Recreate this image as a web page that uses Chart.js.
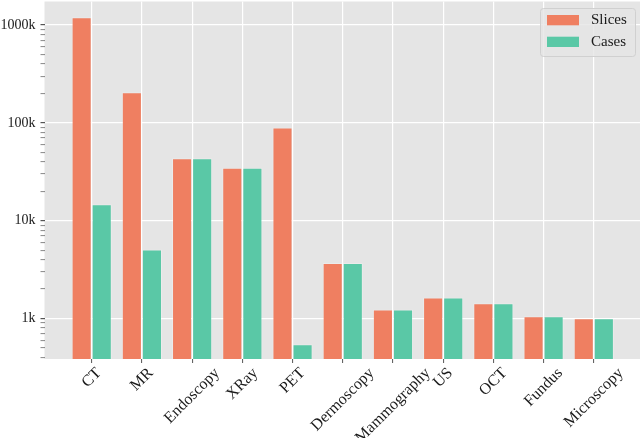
<!DOCTYPE html>
<html>
<head>
<meta charset="utf-8">
<script src="https://cdn.jsdelivr.net/npm/chart.js@4.4.0/dist/chart.umd.min.js"></script>
<style>
  html, body { margin: 0; padding: 0; background: #fff; }
  canvas { display: block; }
</style>
</head>
<body>
<canvas id="chart" width="640" height="438"></canvas>
<script>
// Datos (escala logarítmica)
const CATEGORIES = ["CT", "MR", "Endoscopy", "XRay", "PET", "Dermoscopy", "Mammography", "US", "OCT", "Fundus", "Microscopy"];
const SLICES = [1200000, 206000, 43500, 34700, 89800, 3690, 1240, 1640, 1430, 1055, 1005];
const CASES = [14700, 5090, 43500, 34700, 546, 3690, 1240, 1640, 1430, 1055, 1005];
const SERIES_LABELS = ["Slices", "Cases"];
const Y_MAJOR = [1e3, 1e4, 1e5, 1e6];
const Y_TICK_LABELS = ["1k", "10k", "100k", "1000k"];

const COLOR_SLICES = "#EF7F61";
const COLOR_CASES = "#5AC8A6";
const FONT = '"Liberation Serif", "Times New Roman", serif';
const TEXT = "#1a1a1a";

const Y_MIN = 386;
const Y_MAX = 1.74e6;

// ticks menores 2..9 de cada década
function yTicks() {
  const out = [];
  [100, 1e3, 1e4, 1e5, 1e6].forEach(d => {
    for (let k = 1; k <= 9; k++) {
      const v = d * k;
      if (v >= Y_MIN && v <= Y_MAX) out.push({ value: v });
    }
  });
  return out;
}

// Fondo gris estilo ggplot
const bgPlugin = {
  id: "bg",
  beforeDraw(chart) {
    const { ctx, chartArea: a } = chart;
    ctx.save();
    ctx.fillStyle = "#E5E5E5";
    ctx.fillRect(a.left, a.top, a.right - a.left, a.bottom - a.top);
    ctx.restore();
  }
};

// Etiquetas del eje X rotadas 45° y centradas en el tick
const xLabelPlugin = {
  id: "xlabels",
  afterDraw(chart) {
    const { ctx } = chart;
    const xs = chart.scales.x;
    const size = 16;
    ctx.save();
    ctx.font = size + "px " + FONT;
    ctx.fillStyle = TEXT;
    ctx.textAlign = "center";
    ctx.textBaseline = "middle";
    CATEGORIES.forEach((lab, i) => {
      const x = xs.getPixelForValue(i);
      const w = ctx.measureText(lab).width;
      const bh = (w + size) * Math.SQRT1_2;
      const cy = xs.top + 6 + bh / 2;
      ctx.save();
      ctx.translate(x, cy);
      ctx.rotate(-Math.PI / 4);
      ctx.fillText(lab, 0, 0);
      ctx.restore();
    });
    ctx.restore();
  }
};

// Leyenda dentro del área, arriba a la derecha
const legendPlugin = {
  id: "boxlegend",
  afterDraw(chart) {
    const { ctx } = chart;
    const x = 540, y = 8, w = 95, h = 48, r = 3;
    ctx.save();
    ctx.beginPath();
    ctx.roundRect(x + 0.5, y + 0.5, w, h, r);
    ctx.fillStyle = "rgba(229,229,229,0.8)";
    ctx.fill();
    ctx.strokeStyle = "#D0D0D0";
    ctx.lineWidth = 1;
    ctx.stroke();
    ctx.font = "15px " + FONT;
    ctx.textBaseline = "middle";
    ctx.textAlign = "left";
    chart.data.datasets.forEach((ds, i) => {
      const ry = 15 + i * 21.7;
      ctx.fillStyle = ds.backgroundColor;
      ctx.fillRect(547, ry, 32, 10.3);
      ctx.fillStyle = TEXT;
      ctx.fillText(ds.label, 591, ry + 5.5);
    });
    ctx.restore();
  }
};

new Chart(document.getElementById("chart"), {
  type: "bar",
  data: {
    datasets: [
      {
        label: SERIES_LABELS[0],
        data: SLICES.map((v, i) => ({ x: i, y: v })),
        backgroundColor: COLOR_SLICES,
        borderColor: "rgba(255,255,255,0.25)",
        borderWidth: 1,
        barPercentage: 1.0,
        categoryPercentage: 0.8
      },
      {
        label: SERIES_LABELS[1],
        data: CASES.map((v, i) => ({ x: i, y: v })),
        backgroundColor: COLOR_CASES,
        borderColor: "rgba(255,255,255,0.25)",
        borderWidth: 1,
        barPercentage: 1.0,
        categoryPercentage: 0.8
      }
    ]
  },
  options: {
    responsive: false,
    animation: false,
    devicePixelRatio: 1,
    layout: { padding: { top: 1.5, right: 0, left: 0, bottom: 0 } },
    plugins: {
      legend: { display: false },
      tooltip: { enabled: false }
    },
    scales: {
      x: {
        type: "linear",
        min: -0.94,
        max: 10.92,
        offset: false,
        afterBuildTicks(scale) {
          scale.ticks = CATEGORIES.map((_, i) => ({ value: i }));
        },
        afterFit(scale) {
          scale.height = 79;
          scale.paddingLeft = 0;
          scale.paddingRight = 0;
        },
        ticks: { display: false },
        border: { display: false },
        grid: {
          offset: false,
          color: "#FFFFFF",
          lineWidth: 1.2,
          drawTicks: true,
          tickLength: 4,
          tickColor: "#555555",
          tickWidth: 1
        }
      },
      y: {
        type: "logarithmic",
        min: Y_MIN,
        max: Y_MAX,
        afterBuildTicks(scale) { scale.ticks = yTicks(); },
        afterFit(scale) {
          scale.width = 44.5;
          scale.paddingTop = 0;
          scale.paddingBottom = 0;
        },
        border: { display: false },
        ticks: {
          autoSkip: false,
          padding: 5,
          color: TEXT,
          font: { family: FONT, size: 14 },
          callback(value) {
            const idx = Y_MAJOR.indexOf(value);
            return idx >= 0 ? Y_TICK_LABELS[idx] : "";
          }
        },
        grid: {
          color: c => Y_MAJOR.includes(c.tick.value) ? "#FFFFFF" : "rgba(0,0,0,0)",
          lineWidth: 1.2,
          drawTicks: true,
          tickLength: 4,
          tickColor: "#555555",
          tickWidth: c => Y_MAJOR.includes(c.tick.value) ? 1.2 : 0.7
        }
      }
    }
  },
  plugins: [bgPlugin, xLabelPlugin, legendPlugin]
});
</script>
</body>
</html>
